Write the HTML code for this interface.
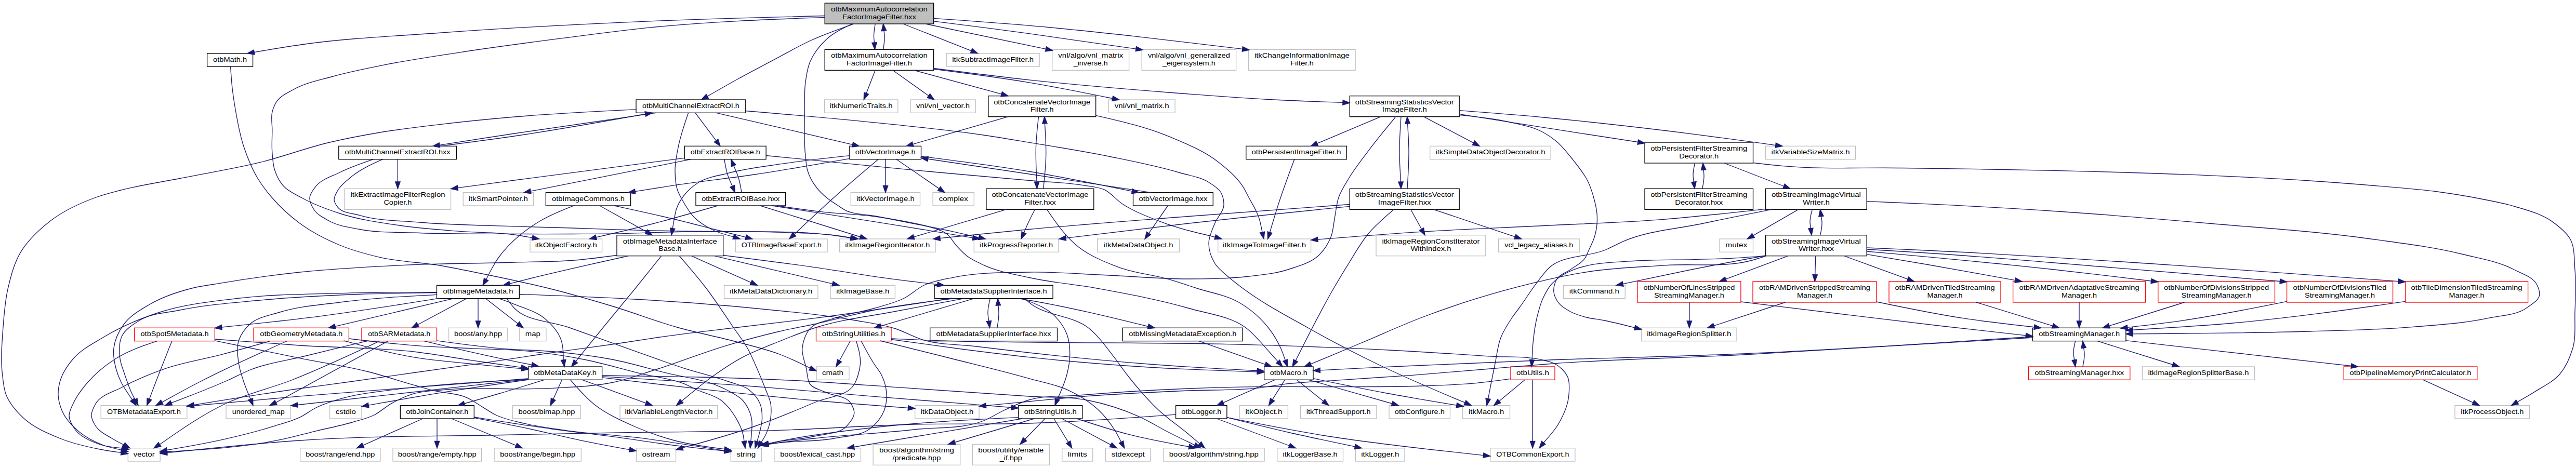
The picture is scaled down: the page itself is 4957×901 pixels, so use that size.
<!DOCTYPE html>
<html><head><meta charset="utf-8"><title>Include dependency graph</title>
<style>html,body{margin:0;padding:0;background:#fff}svg{display:block}text{font-family:"Liberation Sans",sans-serif;font-size:13px;fill:#000;text-anchor:middle}.e{fill:none;stroke:#191970;stroke-width:1.33}.a{fill:#191970;stroke:#191970;stroke-width:1.33}.k{fill:#fff;stroke:#000;stroke-width:1.33}.g{fill:#fff;stroke:#bfbfbf;stroke-width:1.33}.r{fill:#fff;stroke:#f00;stroke-width:1.33}.m{fill:#bfbfbf;stroke:#000;stroke-width:1.33}</style></head>
<body>
<svg width="4957" height="901" viewBox="0 0 4957 901">
<rect width="4957" height="901" fill="#fff"/>
<g id="nodes">
<rect class="m" x="1587.2" y="6" width="209.4" height="40"/><text x="1691.9" y="21.9" textLength="186" lengthAdjust="spacingAndGlyphs">otbMaximumAutocorrelation</text><text x="1691.9" y="36.6" textLength="142" lengthAdjust="spacingAndGlyphs">FactorImageFilter.hxx</text>
<rect class="k" x="398.6" y="102.7" width="88" height="25.3"/><text x="442.6" y="118.6" textLength="65" lengthAdjust="spacingAndGlyphs">otbMath.h</text>
<rect class="k" x="1587.2" y="95.3" width="209.4" height="40"/><text x="1691.9" y="111.2" textLength="186" lengthAdjust="spacingAndGlyphs">otbMaximumAutocorrelation</text><text x="1691.9" y="125.9" textLength="126" lengthAdjust="spacingAndGlyphs">FactorImageFilter.h</text>
<rect class="g" x="1821.2" y="102.7" width="178.9" height="25.3"/><text x="1910.7" y="118.6" textLength="157" lengthAdjust="spacingAndGlyphs">itkSubtractImageFilter.h</text>
<rect class="g" x="2024.7" y="95.3" width="147.9" height="40"/><text x="2098.7" y="111.2" textLength="125" lengthAdjust="spacingAndGlyphs">vnl/algo/vnl_matrix</text><text x="2098.7" y="125.9" textLength="66" lengthAdjust="spacingAndGlyphs">_inverse.h</text>
<rect class="g" x="2197.2" y="95.3" width="181.4" height="40"/><text x="2287.9" y="111.2" textLength="158" lengthAdjust="spacingAndGlyphs">vnl/algo/vnl_generalized</text><text x="2287.9" y="125.9" textLength="102" lengthAdjust="spacingAndGlyphs">_eigensystem.h</text>
<rect class="g" x="2402.7" y="95.3" width="205.4" height="40"/><text x="2505.4" y="111.2" textLength="183" lengthAdjust="spacingAndGlyphs">itkChangeInformationImage</text><text x="2505.4" y="125.9" textLength="45" lengthAdjust="spacingAndGlyphs">Filter.h</text>
<rect class="k" x="1224" y="192" width="210.8" height="25.3"/><text x="1329.4" y="208" textLength="187" lengthAdjust="spacingAndGlyphs">otbMultiChannelExtractROI.h</text>
<rect class="g" x="1586.7" y="192" width="141.1" height="25.3"/><text x="1657.2" y="208" textLength="121" lengthAdjust="spacingAndGlyphs">itkNumericTraits.h</text>
<rect class="g" x="1751.9" y="192" width="125.3" height="25.3"/><text x="1814.6" y="208" textLength="103" lengthAdjust="spacingAndGlyphs">vnl/vnl_vector.h</text>
<rect class="k" x="1901.8" y="184.7" width="206.9" height="40"/><text x="2005.2" y="200.6" textLength="186" lengthAdjust="spacingAndGlyphs">otbConcatenateVectorImage</text><text x="2005.2" y="215.3" textLength="45" lengthAdjust="spacingAndGlyphs">Filter.h</text>
<rect class="g" x="2133.3" y="192" width="127.8" height="25.3"/><text x="2197.2" y="208" textLength="105" lengthAdjust="spacingAndGlyphs">vnl/vnl_matrix.h</text>
<rect class="k" x="2597.3" y="184.7" width="210.9" height="40"/><text x="2702.8" y="200.6" textLength="190" lengthAdjust="spacingAndGlyphs">otbStreamingStatisticsVector</text><text x="2702.8" y="215.3" textLength="86" lengthAdjust="spacingAndGlyphs">ImageFilter.h</text>
<rect class="k" x="651.8" y="281.3" width="226.6" height="25.3"/><text x="765.1" y="297.3" textLength="203" lengthAdjust="spacingAndGlyphs">otbMultiChannelExtractROI.hxx</text>
<rect class="k" x="1317.3" y="281.3" width="156.8" height="25.3"/><text x="1395.7" y="297.3" textLength="134" lengthAdjust="spacingAndGlyphs">otbExtractROIBase.h</text>
<rect class="k" x="1634.9" y="281.3" width="137.6" height="25.3"/><text x="1703.7" y="297.3" textLength="116" lengthAdjust="spacingAndGlyphs">otbVectorImage.h</text>
<rect class="k" x="2397.8" y="281.3" width="193.6" height="25.3"/><text x="2494.6" y="297.3" textLength="172" lengthAdjust="spacingAndGlyphs">otbPersistentImageFilter.h</text>
<rect class="g" x="2751.7" y="281.3" width="232.5" height="25.3"/><text x="2867.9" y="297.3" textLength="211" lengthAdjust="spacingAndGlyphs">itkSimpleDataObjectDecorator.h</text>
<rect class="k" x="3165" y="274" width="208.5" height="40"/><text x="3269.2" y="289.9" textLength="186" lengthAdjust="spacingAndGlyphs">otbPersistentFilterStreaming</text><text x="3269.2" y="304.6" textLength="76" lengthAdjust="spacingAndGlyphs">Decorator.h</text>
<rect class="g" x="3397.6" y="281.3" width="173" height="25.3"/><text x="3484.1" y="297.3" textLength="151" lengthAdjust="spacingAndGlyphs">itkVariableSizeMatrix.h</text>
<rect class="g" x="663.1" y="363.3" width="204.5" height="40"/><text x="765.4" y="379.2" textLength="182" lengthAdjust="spacingAndGlyphs">itkExtractImageFilterRegion</text><text x="765.4" y="393.9" textLength="54" lengthAdjust="spacingAndGlyphs">Copier.h</text>
<rect class="g" x="891.2" y="370.7" width="135.1" height="25.3"/><text x="958.8" y="386.6" textLength="114" lengthAdjust="spacingAndGlyphs">itkSmartPointer.h</text>
<rect class="k" x="1050.4" y="370.7" width="163.2" height="25.3"/><text x="1132" y="386.6" textLength="140" lengthAdjust="spacingAndGlyphs">otbImageCommons.h</text>
<rect class="k" x="1339" y="370.7" width="172.5" height="25.3"/><text x="1425.2" y="386.6" textLength="150" lengthAdjust="spacingAndGlyphs">otbExtractROIBase.hxx</text>
<rect class="g" x="1637.3" y="370.7" width="133.2" height="25.3"/><text x="1703.9" y="386.6" textLength="112" lengthAdjust="spacingAndGlyphs">itkVectorImage.h</text>
<rect class="g" x="1795.1" y="370.7" width="79.2" height="25.3"/><text x="1834.7" y="386.6" textLength="56" lengthAdjust="spacingAndGlyphs">complex</text>
<rect class="k" x="1897.9" y="363.3" width="206.9" height="40"/><text x="2001.4" y="379.2" textLength="186" lengthAdjust="spacingAndGlyphs">otbConcatenateVectorImage</text><text x="2001.4" y="393.9" textLength="61" lengthAdjust="spacingAndGlyphs">Filter.hxx</text>
<rect class="k" x="2180.5" y="370.7" width="153.8" height="25.3"/><text x="2257.4" y="386.6" textLength="132" lengthAdjust="spacingAndGlyphs">otbVectorImage.hxx</text>
<rect class="k" x="2597.3" y="363.3" width="210.9" height="40"/><text x="2702.8" y="379.2" textLength="190" lengthAdjust="spacingAndGlyphs">otbStreamingStatisticsVector</text><text x="2702.8" y="393.9" textLength="102" lengthAdjust="spacingAndGlyphs">ImageFilter.hxx</text>
<rect class="k" x="3165" y="363.3" width="208.5" height="40"/><text x="3269.2" y="379.2" textLength="186" lengthAdjust="spacingAndGlyphs">otbPersistentFilterStreaming</text><text x="3269.2" y="393.9" textLength="92" lengthAdjust="spacingAndGlyphs">Decorator.hxx</text>
<rect class="k" x="3397.6" y="363.3" width="194.6" height="40"/><text x="3494.9" y="379.2" textLength="172" lengthAdjust="spacingAndGlyphs">otbStreamingImageVirtual</text><text x="3494.9" y="393.9" textLength="52" lengthAdjust="spacingAndGlyphs">Writer.h</text>
<rect class="g" x="1020" y="460" width="138.6" height="25.3"/><text x="1089.3" y="476" textLength="119" lengthAdjust="spacingAndGlyphs">itkObjectFactory.h</text>
<rect class="k" x="1187" y="452.7" width="204.6" height="40"/><text x="1289.3" y="468.6" textLength="181" lengthAdjust="spacingAndGlyphs">otbImageMetadataInterface</text><text x="1289.3" y="483.3" textLength="44" lengthAdjust="spacingAndGlyphs">Base.h</text>
<rect class="g" x="1415.6" y="460" width="176.5" height="25.3"/><text x="1503.8" y="476" textLength="154" lengthAdjust="spacingAndGlyphs">OTBImageBaseExport.h</text>
<rect class="g" x="1615.7" y="460" width="184.3" height="25.3"/><text x="1707.8" y="476" textLength="163" lengthAdjust="spacingAndGlyphs">itkImageRegionIterator.h</text>
<rect class="g" x="1874.3" y="460" width="162.7" height="25.3"/><text x="1955.7" y="476" textLength="141" lengthAdjust="spacingAndGlyphs">itkProgressReporter.h</text>
<rect class="g" x="2111.7" y="460" width="157.8" height="25.3"/><text x="2190.6" y="476" textLength="134" lengthAdjust="spacingAndGlyphs">itkMetaDataObject.h</text>
<rect class="g" x="2343.7" y="460" width="178.9" height="25.3"/><text x="2433.1" y="476" textLength="160" lengthAdjust="spacingAndGlyphs">itkImageToImageFilter.h</text>
<rect class="g" x="2648" y="452.7" width="210.8" height="40"/><text x="2753.4" y="468.6" textLength="188" lengthAdjust="spacingAndGlyphs">itkImageRegionConstIterator</text><text x="2753.4" y="483.3" textLength="78" lengthAdjust="spacingAndGlyphs">WithIndex.h</text>
<rect class="g" x="2883.4" y="460" width="155.8" height="25.3"/><text x="2961.3" y="476" textLength="132" lengthAdjust="spacingAndGlyphs">vcl_legacy_aliases.h</text>
<rect class="g" x="3309.1" y="460" width="64.4" height="25.3"/><text x="3341.3" y="476" textLength="42" lengthAdjust="spacingAndGlyphs">mutex</text>
<rect class="k" x="3397.6" y="452.7" width="194.6" height="40"/><text x="3494.9" y="468.6" textLength="172" lengthAdjust="spacingAndGlyphs">otbStreamingImageVirtual</text><text x="3494.9" y="483.3" textLength="68" lengthAdjust="spacingAndGlyphs">Writer.hxx</text>
<rect class="k" x="840.5" y="549.3" width="158.8" height="25.3"/><text x="919.9" y="565.3" textLength="135" lengthAdjust="spacingAndGlyphs">otbImageMetadata.h</text>
<rect class="g" x="1393.5" y="549.3" width="180.4" height="25.3"/><text x="1483.7" y="565.3" textLength="159" lengthAdjust="spacingAndGlyphs">itkMetaDataDictionary.h</text>
<rect class="g" x="1598" y="549.3" width="124.4" height="25.3"/><text x="1660.2" y="565.3" textLength="102" lengthAdjust="spacingAndGlyphs">itkImageBase.h</text>
<rect class="k" x="1798.1" y="549.3" width="228" height="25.3"/><text x="1912.1" y="565.3" textLength="205" lengthAdjust="spacingAndGlyphs">otbMetadataSupplierInterface.h</text>
<rect class="g" x="3008.3" y="549.3" width="118.9" height="25.3"/><text x="3067.8" y="565.3" textLength="96" lengthAdjust="spacingAndGlyphs">itkCommand.h</text>
<rect class="r" x="3150.8" y="542" width="199.1" height="40"/><text x="3250.4" y="557.9" textLength="176" lengthAdjust="spacingAndGlyphs">otbNumberOfLinesStripped</text><text x="3250.4" y="572.6" textLength="135" lengthAdjust="spacingAndGlyphs">StreamingManager.h</text>
<rect class="r" x="3373" y="542" width="237.9" height="40"/><text x="3491.9" y="557.9" textLength="214" lengthAdjust="spacingAndGlyphs">otbRAMDrivenStrippedStreaming</text><text x="3491.9" y="572.6" textLength="68" lengthAdjust="spacingAndGlyphs">Manager.h</text>
<rect class="r" x="3635" y="542" width="215" height="40"/><text x="3742.5" y="557.9" textLength="192" lengthAdjust="spacingAndGlyphs">otbRAMDrivenTiledStreaming</text><text x="3742.5" y="572.6" textLength="68" lengthAdjust="spacingAndGlyphs">Manager.h</text>
<rect class="r" x="3873.6" y="542" width="255.1" height="40"/><text x="4001.1" y="557.9" textLength="231" lengthAdjust="spacingAndGlyphs">otbRAMDrivenAdaptativeStreaming</text><text x="4001.1" y="572.6" textLength="68" lengthAdjust="spacingAndGlyphs">Manager.h</text>
<rect class="r" x="4152.8" y="542" width="224.7" height="40"/><text x="4265.1" y="557.9" textLength="202" lengthAdjust="spacingAndGlyphs">otbNumberOfDivisionsStripped</text><text x="4265.1" y="572.6" textLength="135" lengthAdjust="spacingAndGlyphs">StreamingManager.h</text>
<rect class="r" x="4400.6" y="542" width="204" height="40"/><text x="4502.6" y="557.9" textLength="180" lengthAdjust="spacingAndGlyphs">otbNumberOfDivisionsTiled</text><text x="4502.6" y="572.6" textLength="135" lengthAdjust="spacingAndGlyphs">StreamingManager.h</text>
<rect class="r" x="4628.6" y="542" width="236" height="40"/><text x="4746.6" y="557.9" textLength="214" lengthAdjust="spacingAndGlyphs">otbTileDimensionTiledStreaming</text><text x="4746.6" y="572.6" textLength="68" lengthAdjust="spacingAndGlyphs">Manager.h</text>
<rect class="r" x="258.6" y="631.3" width="154.8" height="25.3"/><text x="336" y="647.3" textLength="131" lengthAdjust="spacingAndGlyphs">otbSpot5Metadata.h</text>
<rect class="r" x="488.1" y="631.3" width="183.3" height="25.3"/><text x="579.8" y="647.3" textLength="159" lengthAdjust="spacingAndGlyphs">otbGeometryMetadata.h</text>
<rect class="r" x="696" y="631.3" width="144.5" height="25.3"/><text x="768.2" y="647.3" textLength="120" lengthAdjust="spacingAndGlyphs">otbSARMetadata.h</text>
<rect class="g" x="863.6" y="631.3" width="112.6" height="25.3"/><text x="919.9" y="647.3" textLength="92" lengthAdjust="spacingAndGlyphs">boost/any.hpp</text>
<rect class="g" x="999.8" y="631.3" width="51.1" height="25.3"/><text x="1025.3" y="647.3" textLength="29" lengthAdjust="spacingAndGlyphs">map</text>
<rect class="r" x="1570.5" y="631.3" width="144.5" height="25.3"/><text x="1642.8" y="647.3" textLength="122" lengthAdjust="spacingAndGlyphs">otbStringUtilities.h</text>
<rect class="k" x="1789.7" y="631.3" width="244.8" height="25.3"/><text x="1912.1" y="647.3" textLength="221" lengthAdjust="spacingAndGlyphs">otbMetadataSupplierInterface.hxx</text>
<rect class="k" x="2160.3" y="631.3" width="231" height="25.3"/><text x="2275.8" y="647.3" textLength="207" lengthAdjust="spacingAndGlyphs">otbMissingMetadataException.h</text>
<rect class="g" x="3158.7" y="631.3" width="183.3" height="25.3"/><text x="3250.3" y="647.3" textLength="162" lengthAdjust="spacingAndGlyphs">itkImageRegionSplitter.h</text>
<rect class="k" x="3911.5" y="631.3" width="179.4" height="25.3"/><text x="4001.2" y="647.3" textLength="156" lengthAdjust="spacingAndGlyphs">otbStreamingManager.h</text>
<rect class="k" x="1016.5" y="706" width="142.1" height="25.3"/><text x="1087.5" y="722" textLength="121" lengthAdjust="spacingAndGlyphs">otbMetaDataKey.h</text>
<rect class="g" x="1571" y="706" width="62.9" height="25.3"/><text x="1602.5" y="722" textLength="41" lengthAdjust="spacingAndGlyphs">cmath</text>
<rect class="k" x="2432.6" y="706" width="94.4" height="25.3"/><text x="2479.8" y="722" textLength="72" lengthAdjust="spacingAndGlyphs">otbMacro.h</text>
<rect class="r" x="2907" y="706" width="85" height="25.3"/><text x="2949.5" y="722" textLength="63" lengthAdjust="spacingAndGlyphs">otbUtils.h</text>
<rect class="r" x="3903.6" y="706" width="195.2" height="25.3"/><text x="4001.2" y="722" textLength="172" lengthAdjust="spacingAndGlyphs">otbStreamingManager.hxx</text>
<rect class="g" x="4122.4" y="706" width="216.2" height="25.3"/><text x="4230.5" y="722" textLength="194" lengthAdjust="spacingAndGlyphs">itkImageRegionSplitterBase.h</text>
<rect class="r" x="4510.2" y="706" width="256.6" height="25.3"/><text x="4638.5" y="722" textLength="234" lengthAdjust="spacingAndGlyphs">otbPipelineMemoryPrintCalculator.h</text>
<rect class="g" x="194.2" y="780.7" width="165.6" height="25.3"/><text x="277" y="796.6" textLength="142" lengthAdjust="spacingAndGlyphs">OTBMetadataExport.h</text>
<rect class="g" x="435" y="780.7" width="124.4" height="25.3"/><text x="497.2" y="796.6" textLength="101" lengthAdjust="spacingAndGlyphs">unordered_map</text>
<rect class="g" x="634.6" y="780.7" width="61.4" height="25.3"/><text x="665.3" y="796.6" textLength="39" lengthAdjust="spacingAndGlyphs">cstdio</text>
<rect class="k" x="770.3" y="780.7" width="142" height="25.3"/><text x="841.3" y="796.6" textLength="120" lengthAdjust="spacingAndGlyphs">otbJoinContainer.h</text>
<rect class="g" x="986.5" y="780.7" width="130.8" height="25.3"/><text x="1051.9" y="796.6" textLength="109" lengthAdjust="spacingAndGlyphs">boost/bimap.hpp</text>
<rect class="g" x="1193" y="780.7" width="187.8" height="25.3"/><text x="1286.9" y="796.6" textLength="169" lengthAdjust="spacingAndGlyphs">itkVariableLengthVector.h</text>
<rect class="g" x="1760.7" y="780.7" width="123.4" height="25.3"/><text x="1822.4" y="796.6" textLength="102" lengthAdjust="spacingAndGlyphs">itkDataObject.h</text>
<rect class="k" x="1959.8" y="780.7" width="122.9" height="25.3"/><text x="2021.2" y="796.6" textLength="101" lengthAdjust="spacingAndGlyphs">otbStringUtils.h</text>
<rect class="k" x="2262.6" y="780.7" width="98.3" height="25.3"/><text x="2311.8" y="796.6" textLength="77" lengthAdjust="spacingAndGlyphs">otbLogger.h</text>
<rect class="g" x="2385.5" y="780.7" width="92.9" height="25.3"/><text x="2431.9" y="796.6" textLength="71" lengthAdjust="spacingAndGlyphs">itkObject.h</text>
<rect class="g" x="2502.5" y="780.7" width="146.4" height="25.3"/><text x="2575.7" y="796.6" textLength="124" lengthAdjust="spacingAndGlyphs">itkThreadSupport.h</text>
<rect class="g" x="2673" y="780.7" width="117.5" height="25.3"/><text x="2731.8" y="796.6" textLength="96" lengthAdjust="spacingAndGlyphs">otbConfigure.h</text>
<rect class="g" x="2814.6" y="780.7" width="90.9" height="25.3"/><text x="2860.1" y="796.6" textLength="68" lengthAdjust="spacingAndGlyphs">itkMacro.h</text>
<rect class="g" x="4724" y="780.7" width="143.5" height="25.3"/><text x="4795.8" y="796.6" textLength="121" lengthAdjust="spacingAndGlyphs">itkProcessObject.h</text>
<rect class="g" x="246.3" y="862.7" width="61.9" height="25.3"/><text x="277.2" y="878.6" textLength="41" lengthAdjust="spacingAndGlyphs">vector</text>
<rect class="g" x="577.6" y="862.7" width="154.3" height="25.3"/><text x="654.8" y="878.6" textLength="133" lengthAdjust="spacingAndGlyphs">boost/range/end.hpp</text>
<rect class="g" x="756" y="862.7" width="170.6" height="25.3"/><text x="841.3" y="878.6" textLength="151" lengthAdjust="spacingAndGlyphs">boost/range/empty.hpp</text>
<rect class="g" x="951.1" y="862.7" width="167.2" height="25.3"/><text x="1034.7" y="878.6" textLength="145" lengthAdjust="spacingAndGlyphs">boost/range/begin.hpp</text>
<rect class="g" x="1224.4" y="862.7" width="76.2" height="25.3"/><text x="1262.5" y="878.6" textLength="54" lengthAdjust="spacingAndGlyphs">ostream</text>
<rect class="g" x="1406.3" y="862.7" width="59" height="25.3"/><text x="1435.8" y="878.6" textLength="37" lengthAdjust="spacingAndGlyphs">string</text>
<rect class="g" x="1489.9" y="862.7" width="166.6" height="25.3"/><text x="1573.2" y="878.6" textLength="144" lengthAdjust="spacingAndGlyphs">boost/lexical_cast.hpp</text>
<rect class="g" x="1680.1" y="855.3" width="167.6" height="40"/><text x="1763.9" y="871.2" textLength="144" lengthAdjust="spacingAndGlyphs">boost/algorithm/string</text><text x="1763.9" y="885.9" textLength="93" lengthAdjust="spacingAndGlyphs">/predicate.hpp</text>
<rect class="g" x="1871.3" y="855.3" width="148" height="40"/><text x="1945.3" y="871.2" textLength="126" lengthAdjust="spacingAndGlyphs">boost/utility/enable</text><text x="1945.3" y="885.9" textLength="43" lengthAdjust="spacingAndGlyphs">_if.hpp</text>
<rect class="g" x="2043.8" y="862.7" width="59" height="25.3"/><text x="2073.3" y="878.6" textLength="37" lengthAdjust="spacingAndGlyphs">limits</text>
<rect class="g" x="2127.4" y="862.7" width="86.5" height="25.3"/><text x="2170.7" y="878.6" textLength="64" lengthAdjust="spacingAndGlyphs">stdexcept</text>
<rect class="g" x="2238.5" y="862.7" width="194.6" height="25.3"/><text x="2335.8" y="878.6" textLength="172" lengthAdjust="spacingAndGlyphs">boost/algorithm/string.hpp</text>
<rect class="g" x="2457.7" y="862.7" width="126.8" height="25.3"/><text x="2521.1" y="878.6" textLength="105" lengthAdjust="spacingAndGlyphs">itkLoggerBase.h</text>
<rect class="g" x="2608.6" y="862.7" width="94.4" height="25.3"/><text x="2655.8" y="878.6" textLength="73" lengthAdjust="spacingAndGlyphs">itkLogger.h</text>
<rect class="g" x="2867.7" y="862.7" width="163.2" height="25.3"/><text x="2949.3" y="878.6" textLength="140" lengthAdjust="spacingAndGlyphs">OTBCommonExport.h</text>
</g>
<g id="edges">
<path class="e" d="M1587.2,30.5C1474.8,33.3 1362.3,36.1 1250,40.8C1111.9,46.6 973.8,53.9 836,64C753.9,70 671.5,73.3 590,84.5C556.3,89.1 522.7,94.8 489.1,100.6"/><path class="a" d="M476,102.7L488.4,96L489.9,105.2Z"/>
<path class="e" d="M1587.2,33.4C1474.6,37.6 1362,41.8 1250,53.1C1193.7,58.8 1137.5,66.4 1081.4,73.7C1015.8,82.2 950.2,90.7 884.8,100.8C835.5,108.4 786.1,115.5 737.3,125.3C704.4,131.9 671.3,138.3 639,147.5C614.1,154.6 587.7,159.4 565.3,172C554.1,178.3 540.6,184 533.3,194.2C529,200.2 525.9,207.8 524,215C521.1,226.1 523.8,238.3 523.8,250C523.8,264.5 522.6,279.1 523.8,293.5C524.7,305.1 525.1,317.2 528.8,328C532.5,339 538.3,350.4 546,358.8C555,368.7 569,374.3 581,381C603.9,393.7 629.1,402.9 654,411C691,423 730.4,428.3 769,434C807.4,439.7 846.3,442.3 885,445.4C920,448.2 955.3,447.1 990,452C1001.5,453.6 1012.9,455.7 1024.4,457.8"/><path class="a" d="M1037.5,460L1023.6,462.4L1025.2,453.2Z"/>
<path class="e" d="M1642.7,46C1614.8,55.9 1586.8,65.7 1560,78C1536.1,88.9 1513.3,102.3 1490,114.6C1466.6,127 1443.2,139.2 1420,152C1400.3,162.9 1380.7,174.2 1361.2,185.4"/><path class="a" d="M1349.6,192L1358.9,181.4L1363.5,189.5Z"/>
<path class="e" d="M1640,46C1622,54.5 1603.9,63 1590,76C1577.4,87.7 1565.8,102.7 1559,118.5C1553.4,131.6 1551.4,146.7 1549.6,161C1547.6,177.1 1548.6,193.7 1548.5,210C1548.2,240.3 1546.5,270.9 1550,301C1551.1,310.2 1551.4,319.8 1554,328.5C1557.6,340.5 1564.2,352.2 1572,362C1577.2,368.6 1583.5,374.6 1590,380C1596.6,385.6 1604.2,390.2 1611.4,395C1616.2,398.2 1621,401.7 1626,404.4C1643.4,413.7 1665.2,412.1 1684.8,416C1705.8,420.2 1726.7,424.3 1747.7,428.5C1775.7,434.1 1803.7,439.3 1831.6,445.3C1849,449.1 1866.3,453.1 1883.6,457.1"/><path class="a" d="M1896.6,460L1882.6,461.6L1884.7,452.5Z"/>
<path class="e" d="M1684.2,46C1682.8,54 1681.4,62 1681.5,70C1681.6,74 1682,78 1682.5,82.1"/><path class="a" d="M1683.5,95.3L1677.8,82.4L1687.1,81.7Z"/>
<path class="e" d="M1699.6,95.3C1701,86.9 1702.4,78.4 1702,70C1701.8,66.4 1701.4,62.8 1700.9,59.2"/><path class="a" d="M1699.6,46L1705.6,58.8L1696.3,59.7Z"/>
<path class="e" d="M1738,46L1869.1,97.8"/><path class="a" d="M1881.5,102.7L1867.4,102.1L1870.8,93.4Z"/>
<path class="e" d="M1781,46L2012.5,94.3"/><path class="a" d="M2025.5,97L2011.5,98.9L2013.4,89.7Z"/>
<path class="e" d="M1796.6,40.8C1857.8,48.5 1918.9,56.3 1980,64.6C2048.7,74 2117.3,84 2185.8,94.1"/><path class="a" d="M2199,96L2185.2,98.7L2186.5,89.5Z"/>
<path class="e" d="M1796.6,35.4C1857.8,39.6 1918.9,43.9 1980,49.2C2044.1,54.8 2108.1,61.5 2172,68.5C2245,76.5 2317.9,85.4 2390.8,94.4"/><path class="a" d="M2404,96L2390.2,99.1L2391.3,89.8Z"/>
<path class="e" d="M1684.2,135.3L1667.1,179.6"/><path class="a" d="M1662.3,192L1662.7,177.9L1671.5,181.3Z"/>
<path class="e" d="M1718,135.3L1786.9,184.3"/><path class="a" d="M1797.7,192L1784.2,188.1L1789.6,180.5Z"/>
<path class="e" d="M1759.2,135.3L1927.2,181.2"/><path class="a" d="M1940,184.7L1925.9,185.7L1928.4,176.7Z"/>
<path class="e" d="M1796.6,133C1857.9,140.8 1919.1,148.6 1980,158.8C2033.8,167.8 2087.3,178.7 2140.7,189.5"/><path class="a" d="M2153.8,192L2139.9,194.1L2141.6,184.9Z"/>
<path class="e" d="M1796.6,131.5C1857.7,139.3 1918.8,147.1 1980,153.8C2069.5,163.5 2159.3,171 2249,178C2313.1,183 2377.3,188 2441.5,191.5C2489,194.1 2536.5,195.7 2584,197.4"/><path class="a" d="M2597.3,198L2583.8,202.1L2584.2,192.8Z"/>
<path class="e" d="M443.6,128C444.5,142 445.4,156.1 447,170C448.3,181.7 450.1,193.4 452,205C456.3,230.9 460.7,257.2 469,282C476.1,303.1 484.4,324.5 496,343.5C503.8,356.3 513.2,368.6 523,380C538.9,398.6 557.4,415.6 577,430C600.4,447.2 627.1,460.9 654,472C678.7,482.2 705,489.3 731,495.4C768.6,504.2 807.9,504.5 846,511C871.8,515.4 897.4,520.8 923,526C945.4,530.5 967.7,535.1 990,540C1011.8,544.8 1033.7,549.6 1055.4,555C1097.3,565.3 1138.7,577.5 1180,590C1221.2,602.5 1261.3,618.3 1302.7,630C1339.1,640.3 1376.4,647.2 1413,657C1442.1,664.8 1471.9,671.3 1500,682C1520.1,689.6 1539.5,699.1 1558.9,708.5"/><path class="a" d="M1571,714L1557,712.8L1560.8,704.3Z"/>
<path class="e" d="M1224,210.8C1145.9,214.6 1067.8,218.3 990,225C941.9,229.1 893.9,233.9 846,239.6C807.6,244.2 769.1,248.6 731,255C698.7,260.4 666.5,266.5 634.6,274C589.2,284.6 545.3,301.6 500,312.7C449.2,325.2 397.3,333.2 346,343.5C307.7,351.2 268.8,356.5 231,366.5C215.4,370.6 199.7,374.5 184.6,380C153.4,391.3 121.8,405.8 96,426C74.2,443.1 52.2,463.9 38.5,487.7C26.9,507.8 20.8,532 15.4,555C9.5,580 7.7,606.2 5.8,632C3.7,661.5 1.1,691.7 4.6,721C6.1,733.9 7,747.6 11.5,759.5C18.2,777 32.3,792.8 46,805.6C64.9,823.2 91.1,834.1 115.4,844C139.8,853.9 166.3,859.9 192.3,865C205.8,867.7 219.5,869.5 233.2,871.4"/><path class="a" d="M246.3,873.5L232.4,876L233.9,866.8Z"/>
<path class="e" d="M1262,217.3C1171.3,230.3 1080.6,243.3 990,257C941.9,264.3 893.9,271.8 845.8,279.3"/><path class="a" d="M832.7,281.3L845.1,274.7L846.6,283.9Z"/>
<path class="e" d="M846,281.3C894,275.2 942.1,269 990,262C1074.2,249.6 1158.1,234.6 1241.9,219.5"/><path class="a" d="M1255,217.3L1242.7,224.1L1241.1,214.9Z"/>
<path class="e" d="M1324.6,217.3C1317.2,238.7 1309.8,260 1305.4,282C1302.3,297.3 1298.9,313 1299,328.5C1299.1,341.3 1299.6,355 1304,367C1306.3,373.2 1309.7,379.2 1313,385C1319.6,396.8 1326.6,409.1 1336,418.5C1346.7,429.2 1360.8,437.5 1374.6,444C1386.2,449.4 1398.8,452.6 1411.3,455.9"/><path class="a" d="M1424,460L1409.9,460.3L1412.8,451.5Z"/>
<path class="e" d="M1338,217.3L1378,270.7"/><path class="a" d="M1386,281.3L1374.3,273.5L1381.8,267.9Z"/>
<path class="e" d="M1378.5,217.3L1640.5,278.3"/><path class="a" d="M1653.5,281.3L1639.5,282.9L1641.6,273.8Z"/>
<path class="e" d="M1434.8,213.5C1517.3,220.4 1599.7,227.3 1682,235.8C1751.1,242.9 1820.3,249.4 1889,259.5C1919.4,264 1949.7,269.2 1980,274.2C2031.3,282.7 2082.8,290.6 2133.8,301C2178.9,310.2 2224.4,318.8 2268.5,332C2287.8,337.8 2309.2,340.3 2326,351C2334.3,356.3 2344.2,361.9 2349,370C2353.1,377 2355.3,386.9 2355,395C2354.5,407.3 2342.5,417.9 2337.7,430C2332.8,442.4 2326,455.7 2326,468.5C2326,481.3 2330.9,495.9 2337.7,507C2344.1,517.5 2355.1,525.4 2364.6,533.8C2373.1,541.3 2382.4,548.1 2391.5,555C2431,584.7 2475.4,607.7 2518.5,632C2561.1,656 2604.6,678.6 2648.6,700C2704.4,727.2 2761.7,751.2 2819,775.3"/><path class="a" d="M2831.2,780.7L2817.1,779.6L2820.9,771Z"/>
<path class="e" d="M765.4,306.7L765.4,350"/><path class="a" d="M765.4,363.3L760.7,350L770.1,350Z"/>
<path class="e" d="M718.5,306.7C696.5,314.2 674.5,321.7 653.8,332C637.9,339.9 618.4,345.3 607.7,358.8C602.8,364.9 596.7,372.6 596,380C595.3,387.4 599.7,396.4 603.8,403C610.3,413.4 623.5,420 634.6,426C651.8,435.3 672.8,437.7 692.3,441.5C729.9,448.9 769.2,446.9 807.7,448.5C868.4,451 929.2,450.1 990,450.4C1026.7,450.6 1063.3,450.6 1100,450.5C1128,450.4 1156,450.5 1184,450C1218.9,449.4 1253.8,447.5 1288.7,446.8C1323.6,446.1 1358.6,445.7 1393.5,445.8C1435.3,445.9 1477.2,446.1 1519,447.8C1546,448.9 1573.2,449.3 1600,452.5C1612.3,454 1624.6,456 1636.8,458"/><path class="a" d="M1650,460L1636.2,462.6L1637.5,453.4Z"/>
<path class="e" d="M736.5,306.7C715.5,316 694.4,325.4 677,339.6C667.2,347.6 656,355.6 650,366.5C646.9,372.1 642.4,379 643,385C643.5,389.8 647,395.1 650,399C658.6,410.3 678,410.4 692.3,414.6C729.2,425.5 769.1,424.6 807.7,428C868.3,433.3 929.2,433.7 990,435.8C1026.7,437.1 1063.3,437.9 1100,439C1141.9,440.3 1183.9,442.1 1225.8,443.2C1253.7,443.9 1281.7,444.6 1309.6,445C1344.6,445.5 1379.5,445.2 1414.5,445.6C1463.3,446.2 1512.3,445 1561,448.8C1577.4,450.1 1593.7,451.3 1610,453.5C1619.6,454.8 1629.3,456.4 1638.9,458"/><path class="a" d="M1652,460L1638.1,462.6L1639.6,453.4Z"/>
<path class="e" d="M1940,224.7L1756.6,277.6"/><path class="a" d="M1743.8,281.3L1755.3,273.2L1757.9,282.1Z"/>
<path class="e" d="M1998.5,224.7C1996.3,243.8 1994.2,262.9 1993.5,282C1992.7,304.6 1993.9,327.3 1995.1,350"/><path class="a" d="M1995.4,363.3L1990.4,350.1L1999.8,349.9Z"/>
<path class="e" d="M2007.7,363.3C2010,342.6 2012.2,321.8 2012.7,301C2013.2,280 2011.8,259 2010.5,238"/><path class="a" d="M2010,224.7L2015.1,237.8L2005.8,238.1Z"/>
<path class="e" d="M2108.7,222.3C2156.6,233.2 2204.4,244.1 2249.2,262.7C2282.4,276.5 2317.4,290.5 2345.4,312.7C2362.2,326.1 2379.8,340.7 2391.5,358.8C2395.8,365.5 2399.2,372.9 2403,380C2409.7,392.7 2417.8,405 2422.3,418.5C2425.4,427.7 2427.2,437.4 2429,447"/><path class="a" d="M2432,460L2424.4,448.1L2433.5,446Z"/>
<path class="e" d="M2657,224.7L2534.6,276.2"/><path class="a" d="M2522.3,281.3L2532.7,271.9L2536.4,280.5Z"/>
<path class="e" d="M2685.8,224.7C2668.1,246.1 2650.4,267.4 2633.8,289.6C2620.6,307.2 2606.7,324.6 2595.4,343.5C2588.3,355.3 2580.5,367.1 2576,380C2571.7,392.2 2571,405.7 2568.5,418.5C2566,431.3 2565.7,445.1 2560.8,457C2555.7,469.6 2547.3,482.2 2537.7,491.5C2523,505.7 2500,511.9 2480,518.5C2455.5,526.6 2428.8,528.9 2403,532C2364.9,536.6 2326.1,536.8 2287.7,537C2236.4,537.3 2185.1,532.2 2133.8,530C2082.5,527.8 2031.2,523.2 1980,524C1932,524.8 1882.9,524.1 1836,533.8C1816.7,537.8 1796.2,540.7 1778.5,549C1764.8,555.4 1753.5,567.1 1740,574C1722,583.1 1701.7,587.7 1682.3,593.5C1657,601.1 1630.3,604 1605.4,612.7C1589.7,618.2 1569.6,620.6 1559.2,632C1550.6,641.4 1544.9,657.2 1543.8,670.4C1542.7,682.9 1548.6,696.2 1551.5,709C1553.8,719.4 1553.1,732.3 1559,740C1565.4,748.3 1579.5,750.7 1590,755.6C1605.1,762.7 1627.1,762.2 1636,775C1639.7,780.3 1643.6,787.8 1643.8,794C1644.1,803.3 1635.2,813.9 1628.5,821C1614.7,835.7 1587.8,835.1 1567,840C1541.8,846 1515.4,846.3 1490,851.8C1485.3,852.8 1480.6,853.9 1476,855"/><path class="a" d="M1463,858L1474.9,850.5L1477,859.6Z"/>
<path class="e" d="M2696,224.7C2694.5,246.4 2693,268.2 2693,290C2693,310 2694.2,330 2695.5,350"/><path class="a" d="M2696,363.3L2690.8,350.2L2700.1,349.9Z"/>
<path class="e" d="M2708,363.3C2709.6,338.9 2711.2,314.4 2711,290C2710.8,272.7 2709.7,255.3 2708.6,238"/><path class="a" d="M2708,224.7L2713.3,237.7L2703.9,238.2Z"/>
<path class="e" d="M2739.6,224.7L2835.5,275.1"/><path class="a" d="M2847.3,281.3L2833.4,279.3L2837.7,271Z"/>
<path class="e" d="M2808.2,212.7C2862.2,216.8 2916.1,221 2970,226C3047,233.2 3124,241.7 3200.8,251C3272.9,259.7 3344.9,269.6 3416.8,279.6"/><path class="a" d="M3430,281.3L3416.2,284.2L3417.4,275Z"/>
<path class="e" d="M2808.2,219.6C2862.1,228.3 2916,236.9 2970,245.4C3030.6,254.9 3091.2,264.2 3151.9,273.5"/><path class="a" d="M3165,275.5L3151.1,278.1L3152.6,268.9Z"/>
<path class="e" d="M2808.2,221.5C2839.1,224.4 2870,227.2 2900,234C2923.7,239.4 2948.9,243.2 2970,255C2978,259.5 2985.8,264.7 2993,270.4C3006.4,281.1 3017,295.3 3027.7,308.8C3037.4,321.1 3047.6,333.4 3054.6,347.3C3060.5,359.1 3064.7,372.1 3068,385C3070.2,393.5 3072.3,402.2 3073,410.8C3074.3,426.1 3072.6,442.4 3068,457C3065.5,464.9 3061.5,472.4 3058,480C3055.4,485.7 3053.4,492 3050,497C3043.5,506.6 3031.6,512 3022,519C3013.8,524.9 3002.1,528.1 2996.8,536C2992.2,542.7 2989.2,552.9 2989.8,561C2990.4,568.7 2994.8,577.3 2999.6,583.6C3005.1,590.7 3014,595.6 3022,600C3031.5,605.2 3042.3,608.2 3052.8,611C3063.3,613.7 3074.3,614.4 3085,616.5C3105.4,620.5 3125.6,625.7 3145.8,630.9"/><path class="a" d="M3158.7,634L3144.7,635.5L3146.8,626.4Z"/>
<path class="e" d="M2490.8,306.7C2481.1,332.7 2471.4,358.7 2462.7,385C2455.9,405.6 2449.7,426.5 2443.5,447.3"/><path class="a" d="M2439.6,460L2439.1,445.9L2448,448.7Z"/>
<path class="e" d="M1634.9,305.4C1573.8,316.1 1512.8,326.9 1451.5,336C1400.3,343.6 1348.9,349 1297.7,356.7C1272.5,360.5 1247.3,364.5 1222.1,368.6"/><path class="a" d="M1209,370.7L1221.4,364L1222.9,373.2Z"/>
<path class="e" d="M1634.9,299.7C1590.8,304.3 1546.6,309 1502.8,315.6C1468.5,320.8 1433.8,324.7 1400.3,333.6C1381.2,338.6 1360.1,341.1 1343.8,351.5C1333.4,358.2 1323.1,367 1315.6,377C1309.8,384.7 1304.6,393.6 1301.5,402.8C1299.7,408.3 1298.8,414.2 1297.7,420C1296.4,426.5 1295.3,433 1294.3,439.6"/><path class="a" d="M1292,452.7L1289.7,438.8L1298.9,440.4Z"/>
<path class="e" d="M1690,306.7C1661.4,330.9 1632.9,355 1605,380C1579.1,403.2 1553.8,427.1 1528.5,451"/><path class="a" d="M1518.8,460L1525.4,447.5L1531.7,454.4Z"/>
<path class="e" d="M1704,306.7L1704,357.4"/><path class="a" d="M1704,370.7L1699.3,357.4L1708.7,357.4Z"/>
<path class="e" d="M1725,306.7L1807,363.1"/><path class="a" d="M1818,370.7L1804.4,367L1809.7,359.3Z"/>
<path class="e" d="M1772.5,301C1841.8,309.8 1911.1,318.5 1980,330C2046.4,341.1 2112.4,354.6 2178.4,368.2"/><path class="a" d="M2191.5,370.7L2177.6,372.7L2179.3,363.6Z"/>
<path class="e" d="M2214.6,370.7C2136.4,358.7 2058.2,346.8 1980,335C1915.2,325.2 1850.4,315.6 1785.7,306"/><path class="a" d="M1772.5,304L1786.3,301.3L1785,310.6Z"/>
<path class="e" d="M1318.2,304.1C1208.8,318.2 1099.4,332.4 990,347C953.6,351.9 917.2,356.8 880.8,361.7"/><path class="a" d="M867.6,363.5L880.2,357.1L881.4,366.4Z"/>
<path class="e" d="M1329.7,306.7L1021,368.1"/><path class="a" d="M1008,370.7L1020.1,363.5L1022,372.7Z"/>
<path class="e" d="M1393.8,306.7C1395.4,316.6 1397,326.5 1400,336C1402.5,343.7 1405.9,351 1409.3,358.4"/><path class="a" d="M1414.4,370.7L1405,360.2L1413.6,356.6Z"/>
<path class="e" d="M1427,370.7C1425.4,360.7 1423.8,350.8 1420.8,341.3C1418.4,333.7 1415,326.3 1411.7,319"/><path class="a" d="M1406.7,306.7L1416,317.2L1407.4,320.7Z"/>
<path class="e" d="M1474.1,299.5C1563.2,308.5 1652.3,317.5 1741.5,325.9C1823.4,333.6 1905.4,340.7 1987.3,348C2020.1,350.9 2053.3,351.1 2085.6,356.8C2098.8,359.1 2113.1,359.8 2125,365.2C2137.9,371.1 2147.3,384.2 2159.3,392.2C2181.7,407.1 2207.8,416.9 2233,426.6C2266.9,439.7 2302.5,448 2338.2,456.4"/><path class="a" d="M2351,460L2336.9,460.9L2339.5,451.9Z"/>
<path class="e" d="M1381,396C1340.5,407.7 1300,419.4 1259.2,430C1222,439.6 1184.6,448.3 1147.1,456.9"/><path class="a" d="M1134.2,460L1146,452.4L1148.2,461.4Z"/>
<path class="e" d="M1463,396L1655.3,456"/><path class="a" d="M1668,460L1653.9,460.5L1656.7,451.6Z"/>
<path class="e" d="M1486,396C1517.3,400.9 1548.7,405.8 1580,410.7C1628.9,418.4 1677.9,425.9 1726.8,433.8C1775.2,441.6 1823.5,449.7 1871.9,457.8"/><path class="a" d="M1885,460L1871.1,462.4L1872.6,453.2Z"/>
<path class="e" d="M1495,396C1523.3,400.2 1551.6,404.3 1580,407.6C1614.8,411.6 1650.1,412.2 1684.8,417C1705.8,419.9 1726.9,423.3 1747.7,427.5C1761.7,430.3 1776,432.6 1789.6,437C1800.3,440.4 1812.2,443.1 1821,449.5C1829.6,455.8 1834.5,466.8 1842,474.7C1848,481.1 1854.1,487.7 1861,493C1870.8,500.5 1882.7,505.6 1894,510.8C1921.2,523.2 1951.7,527.9 1981,534.5C2023.7,544.1 2067.7,547.1 2110.8,555C2170.1,565.9 2229.8,576.7 2287.7,593.5C2324.2,604.1 2365.9,608.4 2396,630C2413.7,642.7 2427.9,661.5 2443,678C2448.5,684 2453.8,690 2459.1,696.1"/><path class="a" d="M2468,706L2455.7,699.2L2462.6,693Z"/>
<path class="e" d="M1104,396C1082,404.6 1060.1,413.1 1040,425C1026.1,433.3 1012.4,442.5 1000,453C985.3,465.4 971.3,479.5 960,495C950.4,508.2 943,523 935.6,537.8"/><path class="a" d="M929,549.3L931.5,535.5L939.6,540.1Z"/>
<path class="e" d="M1154,396L1243.8,446.2"/><path class="a" d="M1255.4,452.7L1241.5,450.3L1246.1,442.1Z"/>
<path class="e" d="M1182,396C1220.6,404.4 1259.3,412.7 1297.7,422C1323.4,428.2 1349,435 1374.6,441.5C1394.8,446.6 1414.9,451.7 1435.1,456.7"/><path class="a" d="M1448,460L1434,461.3L1436.2,452.2Z"/>
<path class="e" d="M1936,403.3L1758.5,456.2"/><path class="a" d="M1745.8,460L1757.2,451.7L1759.9,460.7Z"/>
<path class="e" d="M1991.5,403.3C1987.6,410.8 1983.6,418.3 1980,426C1976.6,433.2 1973.5,440.5 1970.4,447.8"/><path class="a" d="M1965,460L1966.1,445.9L1974.6,449.7Z"/>
<path class="e" d="M2014.6,403.3C2033,430.2 2051.4,457 2076,476C2098.3,493.2 2126.3,504.6 2153,514.6C2183.6,526.1 2217.4,528.5 2249,537.7C2267.1,543 2285,549.1 2303,555C2330,563.8 2359.8,567.9 2383.8,582C2405.4,594.6 2426.1,612.1 2441.5,632C2450.5,643.7 2458.5,656.8 2464.6,670.4C2468,677.9 2470.6,685.7 2473.3,693.6"/><path class="a" d="M2478,706L2468.9,695.2L2477.7,691.9Z"/>
<path class="e" d="M2247.3,396L2210.6,449.1"/><path class="a" d="M2203,460L2206.7,446.4L2214.4,451.7Z"/>
<path class="e" d="M2597.3,393.5C2494.1,401 2390.9,408.5 2287.7,416.5C2185.1,424.5 2082.5,431.9 1980,441.5C1923,446.8 1866,452.8 1809,458.7"/><path class="a" d="M1795.8,460L1808.6,454L1809.5,463.3Z"/>
<path class="e" d="M2597.3,397.3C2494.1,407.8 2390.8,418.3 2287.7,430C2208.7,439 2129.8,448.7 2050.9,458.4"/><path class="a" d="M2037.7,460L2050.3,453.8L2051.5,463.1Z"/>
<path class="e" d="M2682,403.3C2665,417.8 2648,432.2 2633.8,449C2618.9,466.6 2607.7,487.4 2595.4,507C2585.5,522.8 2575.9,538.9 2566.5,555C2540.1,600.3 2516.7,647.3 2493.2,694.2"/><path class="a" d="M2487,706L2489.1,692.1L2497.3,696.4Z"/>
<path class="e" d="M2714.6,403.3L2735.5,441"/><path class="a" d="M2742,452.7L2731.5,443.3L2739.6,438.8Z"/>
<path class="e" d="M2758.8,403.3L2915.4,455.8"/><path class="a" d="M2928,460L2913.9,460.2L2916.9,451.3Z"/>
<path class="e" d="M3261.5,314C3259.6,322 3257.8,330 3258,338C3258.1,342 3258.8,346.1 3259.4,350.1"/><path class="a" d="M3261,363.3L3254.8,350.7L3264.1,349.6Z"/>
<path class="e" d="M3275.8,363.3C3277.5,354.9 3279.2,346.5 3279,338C3278.9,334.4 3278.5,330.8 3278.1,327.3"/><path class="a" d="M3277,314L3282.8,326.9L3273.5,327.6Z"/>
<path class="e" d="M3318,314L3432.6,358.5"/><path class="a" d="M3445,363.3L3430.9,362.9L3434.3,354.2Z"/>
<path class="e" d="M3373.5,313.5C3392.8,315.7 3412.1,317.9 3431.5,319.6C3508,326.3 3585.2,322.2 3662,323.5C3758.9,325.1 3855.9,326 3952.8,328.3C4034.7,330.3 4116.6,332.4 4198.5,335.7C4280.5,339 4362.5,342.5 4444.3,348C4486.2,350.8 4528.1,353.9 4570,357.5C4610,360.9 4650.2,363.6 4690,369C4718.4,372.9 4746.8,377.4 4775,383C4795.9,387.2 4817.1,390.9 4837.5,397C4862.8,404.6 4890.2,411.4 4911.3,426.6C4924,435.8 4938.2,446.8 4945.7,460C4955.2,476.7 4953.2,499.9 4955,520C4957.3,546.5 4955.9,573.4 4955,600C4954.2,623.7 4957.2,648.7 4950.6,671C4945.5,688.2 4937.4,706.4 4926,720C4913.5,734.8 4893.9,743.9 4877,754.6C4866.2,761.4 4855.2,767.7 4844.1,773.9"/><path class="a" d="M4832.6,780.7L4841.7,769.9L4846.4,778Z"/>
<path class="e" d="M3397.6,402.3C3332.1,409.7 3266.5,417.1 3200.8,422.3C3124,428.4 3046.9,430.6 2970,434.5C2896.4,438.3 2822.7,440.9 2749.2,445.4C2678,449.8 2607,455.4 2535.9,461"/><path class="a" d="M2522.6,462L2535.5,456.4L2536.2,465.7Z"/>
<path class="e" d="M3408.5,403.3C3364.9,412 3321.2,420.7 3277.7,430C3226.3,441 3171.9,443.8 3123.8,464.6C3113,469.3 3102.7,475.2 3092,480C3056.2,496 3007.5,489.9 2980,516.4C2972.8,523.3 2966.7,532.1 2960.4,540.2C2947.4,556.8 2936.4,574.9 2924,592C2919.4,598.4 2914.4,604.5 2910,611C2901.7,623.4 2893.4,636.3 2888,650C2881.8,665.7 2880.5,683.3 2877,700C2872.3,722.5 2867.9,745.1 2863.6,767.6"/><path class="a" d="M2861,780.7L2859,766.7L2868.2,768.5Z"/>
<path class="e" d="M3460.4,403.3L3373.8,453.3"/><path class="a" d="M3362.3,460L3371.5,449.3L3376.2,457.4Z"/>
<path class="e" d="M3487.3,403.3C3485,411.5 3482.8,419.7 3483,428C3483.1,431.8 3483.8,435.6 3484.4,439.5"/><path class="a" d="M3486,452.7L3479.8,440L3489,438.9Z"/>
<path class="e" d="M3502.7,452.7C3504.6,444.4 3506.4,436.2 3506,428C3505.8,424.2 3505.1,420.3 3504.5,416.5"/><path class="a" d="M3502.7,403.3L3509.1,415.9L3499.8,417.1Z"/>
<path class="e" d="M3592.2,387.7C3630.5,389.3 3668.7,390.9 3707,392.7C3791.6,396.7 3876.3,401.3 3960.8,407C4057.3,413.5 4153.7,421.6 4250,430C4354.1,439.1 4458.6,445.4 4562,460C4621.2,468.3 4681.1,475 4739,489.5C4772.2,497.8 4807.6,503.1 4837.6,519C4853.2,527.2 4874.9,533.3 4882,548.5C4884.7,554.2 4887.4,562.1 4886.7,568C4885.4,578.2 4871.2,586.1 4862,592.7C4842,607.1 4813.2,607.1 4788.4,612.4C4740.2,622.8 4690.3,625.4 4641,629.6C4575.7,635.1 4509.9,636 4444.3,638C4362.4,640.5 4280.4,641.1 4198.5,642C4167.1,642.4 4135.6,642.6 4104.2,642.9"/><path class="a" d="M4090.9,643L4104.2,638.2L4104.2,647.5Z"/>
<path class="e" d="M3397.6,492C3348.3,501.1 3299.1,510.2 3250,520C3207.6,528.5 3165.3,537.5 3123,546.6"/><path class="a" d="M3110,549.3L3122.1,542L3124,551.2Z"/>
<path class="e" d="M3397.6,492.5C3370.4,494.6 3343.2,496.8 3316,498C3297.3,498.8 3278.7,499.2 3260,499.6C3232,500.3 3204,500 3176,501C3157.3,501.7 3138.6,502.4 3120,503.8C3101.3,505.2 3082.4,505.8 3064,509.4C3054.6,511.3 3045.1,513.3 3036,516.4C3026.4,519.7 3016.6,523.7 3008,529C2999.9,534 2991.9,540 2985.6,547C2978.5,555 2973.3,565.2 2968.8,575C2963.6,586.3 2960.6,598.8 2957.6,611C2953.7,627 2951.6,643.6 2950,660C2948.9,670.9 2948.5,681.8 2948.1,692.7"/><path class="a" d="M2947.3,706L2943.4,692.4L2952.7,693Z"/>
<path class="e" d="M3397.6,493C3389.1,495.8 3380.6,498.6 3372,501C3318.1,515.9 3260,506.9 3204,510.8C3157.3,514.1 3110.3,515.2 3064,522C3045.3,524.8 3026.6,528.1 3008,531.8C2989.2,535.5 2970.6,539.9 2952,544.4C2914.4,553.5 2877,563.7 2840,575.2C2805.1,586 2770.5,598 2736.4,611C2697.1,626 2658.8,643.7 2620,660C2587.4,673.7 2554.9,687.3 2522.3,700.9"/><path class="a" d="M2510,706L2520.5,696.6L2524.1,705.2Z"/>
<path class="e" d="M3441,492.7L3321,537.4"/><path class="a" d="M3308.5,542L3319.3,533L3322.6,541.7Z"/>
<path class="e" d="M3493.8,492.7L3492.7,528.7"/><path class="a" d="M3492.3,542L3488,528.6L3497.4,528.8Z"/>
<path class="e" d="M3548.8,492.7L3671,537.4"/><path class="a" d="M3683.5,542L3669.4,541.8L3672.6,533Z"/>
<path class="e" d="M3592.2,489.6C3630.5,496 3668.8,502.4 3707,509C3764,518.9 3821,529.3 3877.9,539.7"/><path class="a" d="M3891,542L3877.1,544.2L3878.7,535.1Z"/>
<path class="e" d="M3592.2,484C3630.5,487.4 3668.7,490.8 3707,494.4C3789,502.1 3871,510 3952.8,519C4015.1,525.9 4077.4,533.5 4139.6,541"/><path class="a" d="M4152.8,542.6L4139,545.7L4140.1,536.4Z"/>
<path class="e" d="M3592.2,480C3630.5,482.3 3668.7,484.5 3707,487C3821.8,494.5 3936.3,504.8 4051,514C4163.1,523 4275.2,532.3 4387.3,541.5"/><path class="a" d="M4400.6,542.6L4387,546.2L4387.7,536.9Z"/>
<path class="e" d="M3592.2,477C3630.5,478.6 3668.7,480.2 3707,482C3870.9,489.7 4034.7,500.7 4198.5,511.6C4337.5,520.9 4476.4,531.3 4615.3,541.6"/><path class="a" d="M4628.6,542.6L4615,546.3L4615.7,537Z"/>
<path class="e" d="M3250.8,582L3250.8,618"/><path class="a" d="M3250.8,631.3L3246.1,618L3255.5,618Z"/>
<path class="e" d="M3435.4,582L3298,627.2"/><path class="a" d="M3285.4,631.3L3296.6,622.7L3299.5,631.6Z"/>
<path class="e" d="M3349.9,581C3415.6,589 3481.3,597.1 3547,605C3611,612.7 3675,620.6 3739,628C3792.1,634.1 3845.2,640 3898.3,645.8"/><path class="a" d="M3911.5,647.3L3897.8,650.5L3898.8,641.2Z"/>
<path class="e" d="M3610.9,581C3666.3,592.6 3721.8,604.1 3777.7,612.7C3823.1,619.7 3868.8,624.7 3914.5,629.7"/><path class="a" d="M3927.7,631.3L3913.9,634.3L3915.1,625.1Z"/>
<path class="e" d="M3803,582L3949.9,627.4"/><path class="a" d="M3962.6,631.3L3948.5,631.9L3951.3,622.9Z"/>
<path class="e" d="M4001,582L4001,618"/><path class="a" d="M4001,631.3L3996.3,618L4005.7,618Z"/>
<path class="e" d="M4203.5,582L4058.7,627.4"/><path class="a" d="M4046,631.3L4057.3,622.9L4060.1,631.8Z"/>
<path class="e" d="M4400.6,580.4C4333.4,594 4266.3,607.5 4198.5,617.3C4163.7,622.3 4128.7,626.3 4093.8,630.4"/><path class="a" d="M4080.6,632L4093.2,625.7L4094.4,635Z"/>
<path class="e" d="M4628.6,580.4C4518.3,596.3 4407.9,612.1 4297,622C4232.9,627.7 4168.5,631.4 4104.2,635.1"/><path class="a" d="M4090.9,636L4103.9,630.4L4104.5,639.8Z"/>
<path class="e" d="M3911.5,648C3725.9,660.5 3540.4,672.9 3354.6,681C3226.5,686.6 3098.2,688.6 2970,693.5C2880,697 2790,700.8 2700,705C2646.8,707.5 2593.5,710.2 2540.3,712.8"/><path class="a" d="M2527,713.5L2540.1,708.2L2540.5,717.5Z"/>
<path class="e" d="M3911.5,650C3725.9,661.7 3540.3,673.4 3354.6,683C3232.8,689.3 3110.7,691.1 2989,700C2948.4,703 2907.8,706.6 2867.2,710C2817.5,714.1 2767.8,718.7 2718,722.4C2668.4,726.1 2618.6,728.7 2569,732.3C2535.9,734.7 2502.6,735.7 2469.7,739.8C2453.1,741.9 2436.6,745.2 2420,747.2C2376.3,752.3 2332,750.1 2288,752C2217.3,755.1 2146.5,758.2 2076,764C2044,766.6 2012,770 1980,773C1952.4,775.6 1924.9,778.2 1897.3,780.8"/><path class="a" d="M1884.1,782L1896.9,776.1L1897.8,785.4Z"/>
<path class="e" d="M3993.6,656.7C3991.7,664.4 3989.7,672.2 3990,680C3990.1,684.3 3991,688.5 3991.8,692.8"/><path class="a" d="M3993.6,706L3987.1,693.5L3996.4,692.2Z"/>
<path class="e" d="M4007.8,706C4009.7,697.3 4011.6,688.7 4011,680C4010.8,676.6 4010.2,673.2 4009.6,669.8"/><path class="a" d="M4007.8,656.7L4014.2,669.2L4005,670.5Z"/>
<path class="e" d="M4036.3,656.7L4180.9,702"/><path class="a" d="M4193.6,706L4179.5,706.5L4182.3,697.6Z"/>
<path class="e" d="M4090.9,655.6C4192.3,667.1 4293.6,678.6 4395,690C4438.2,694.9 4481.3,699.7 4524.5,704.5"/><path class="a" d="M4537.7,706L4524,709.2L4525,699.9Z"/>
<path class="e" d="M4663,731.3L4759.1,775.2"/><path class="a" d="M4771.2,780.7L4757.2,779.4L4761,770.9Z"/>
<path class="e" d="M1187,491.5C1159.8,495.1 1132.7,498.8 1105.4,501C1067.1,504.2 1028.5,503.8 990,505C916.3,507.3 842.6,507.2 769,510.8C704.9,513.9 640.7,517.1 577,524C525.5,529.5 474.1,536.8 423,545.4C405,548.4 386.6,550.5 369,555C341.3,562.1 313,571.4 288.5,585.8C270.6,596.3 250.4,607.6 238.5,624C229,637 220.9,654 219,670C217.5,682.6 219.8,696.4 223,709C225.3,717.9 228.7,726.7 232.7,735C236.9,743.8 242.6,751.8 248,760C250.1,763.2 252.3,766.5 254.5,769.7"/><path class="a" d="M262,780.7L250.7,772.3L258.4,767Z"/>
<path class="e" d="M1209.2,492.7C1146.3,506.6 1083.3,520.5 1020.8,536C1007.5,539.3 994.2,542.7 980.9,546.1"/><path class="a" d="M968,549.3L979.8,541.5L982,550.6Z"/>
<path class="e" d="M1272.7,492.7C1256.1,513.5 1239.5,534.3 1222.7,555C1202.3,580.1 1181.4,604.9 1161,630C1143.2,651.8 1125.6,673.7 1108,695.7"/><path class="a" d="M1099.6,706L1104.3,692.7L1111.6,698.6Z"/>
<path class="e" d="M1307.3,492.7C1325,513.1 1342.6,533.6 1359,555C1377.4,579.2 1393.9,604.9 1411,630C1420.3,643.6 1430.6,656.5 1438.6,670.8C1445.9,683.8 1451.6,697.8 1457.6,711.5C1463.2,724.2 1468.5,737 1473.4,750C1476.8,758.9 1481.4,767.7 1483,777C1484.5,785.8 1484.1,795.4 1483,804.3C1481.6,815.5 1478.3,826.8 1473.4,837C1471,841.9 1468.1,846.5 1465.1,851.2"/><path class="a" d="M1458.4,862.7L1461.1,848.8L1469.1,853.5Z"/>
<path class="e" d="M1330.4,492.7L1445.2,543.9"/><path class="a" d="M1457.3,549.3L1443.3,548.2L1447.1,539.6Z"/>
<path class="e" d="M1374.6,492.7L1602.1,546.3"/><path class="a" d="M1615,549.3L1601,550.8L1603.1,541.7Z"/>
<path class="e" d="M1391.6,491.5C1450.1,498.9 1508.6,506.3 1567,514.6C1618.3,521.9 1669.4,531 1720.8,537.7C1748.4,541.3 1776.1,544.5 1803.8,547.7"/><path class="a" d="M1817,549.3L1803.2,552.4L1804.4,543.1Z"/>
<path class="e" d="M840.5,562.7C778.3,562.7 716.1,562.8 654,564.6C589.8,566.5 525.2,566.5 461.5,574C409.9,580.1 356.9,585.1 307.7,601C269.8,613.2 231.9,629.2 197.8,650C177.9,662.1 155.7,673.4 140.8,690.8C130.7,702.6 120.9,716.6 116.3,731.5C113.5,740.5 111.7,750.6 112,760C112.3,770.1 115.2,780.7 119,790C125.8,806.5 139.9,821.1 153.8,832.5C167.1,843.4 183.7,851.5 200,857.5C210.7,861.4 222.1,863.8 233.4,866.2"/><path class="a" d="M246.3,869.5L232.3,870.7L234.6,861.6Z"/>
<path class="e" d="M840.5,563.5C791,564.1 741.5,564.6 692,566.5C627.9,568.9 563.8,571.9 500,578C448.5,582.9 396.5,586.5 346,597C320.1,602.4 291,603 269,616.5C256.3,624.3 240.8,634.2 234.6,647C228.8,658.9 229.1,675.7 230.8,689.6C232.1,700.2 236.6,710.7 240,721C244.4,734.2 248.8,747.6 255,760C256.5,763 258.1,766 259.8,768.9"/><path class="a" d="M266,780.7L255.6,771.1L263.9,766.7Z"/>
<path class="e" d="M840.5,567.3C778.1,570.6 715.8,573.9 654,582C615.3,587.1 575.5,589.4 538.5,601C518.9,607.2 495.3,610.5 480.8,624C472,632.2 463.5,643.7 459.6,655C454.8,668.9 457.3,686 459.6,701C461.4,712.5 465.3,723.9 469,735C472.8,746.3 477.4,757.3 482.1,768.3"/><path class="a" d="M487,780.7L477.8,770L486.5,766.6Z"/>
<path class="e" d="M846,574.2C769.2,586.5 692.5,598.8 615.4,608.8C552.6,616.9 489.6,623.5 426.6,630"/><path class="a" d="M413.4,631.5L426.1,625.4L427.1,634.7Z"/>
<path class="e" d="M873,574.7L644.9,628.3"/><path class="a" d="M632,631.3L643.9,623.7L646,632.8Z"/>
<path class="e" d="M898,574.7L804,625"/><path class="a" d="M792.3,631.3L801.8,620.9L806.2,629.2Z"/>
<path class="e" d="M920,574.7L920,618"/><path class="a" d="M920,631.3L915.3,618L924.7,618Z"/>
<path class="e" d="M934.6,574.7L996.5,623.1"/><path class="a" d="M1007,631.3L993.6,626.8L999.4,619.5Z"/>
<path class="e" d="M960,574.7C970.1,578.2 980.1,581.8 990,585.8C1009.7,593.7 1031.8,599.5 1047.7,612.7C1060,622.9 1072.6,636.4 1078.5,651C1083.6,663.6 1083.9,678.2 1084.2,692.8"/><path class="a" d="M1086,706L1079.6,693.5L1088.8,692.2Z"/>
<path class="e" d="M975,574.7C979.8,581.3 984.5,587.9 990,593.5C1014.9,619.2 1059,617.8 1093.5,630C1131.6,643.5 1169.5,657.3 1207.6,670.8C1243.7,683.6 1279.6,697.1 1316,708.8C1343.8,717.8 1372.5,724.1 1400,734C1413.7,739 1429.7,741.3 1440.8,750C1449.6,756.9 1458.3,766.7 1462.5,777C1465.8,785.2 1466.6,795.2 1466.6,804.3C1466.6,816.1 1462.9,828.1 1459.8,839.7C1458.9,843.1 1457.8,846.5 1456.8,849.9"/><path class="a" d="M1453,862.7L1452.3,848.6L1461.3,851.2Z"/>
<path class="e" d="M999.3,566.5C1073.2,569.1 1147,571.6 1220.8,576C1297.8,580.5 1374.8,585.9 1451.5,593.5C1515.7,599.9 1580.3,605.2 1643.8,616.5C1669.6,621.1 1695.9,624.3 1720.8,632C1740.5,638.1 1758.7,649.4 1778.5,655C1809.3,663.8 1842.6,662.7 1874.6,666.5C1909.7,670.7 1944.8,675.1 1980,679C2056.8,687.5 2133.8,695 2210.8,701C2280.2,706.4 2349.8,710.1 2419.3,713.8"/><path class="a" d="M2432.6,714.6L2419,718.4L2419.6,709.1Z"/>
<path class="e" d="M302.4,656.7C274.4,666 246.5,675.3 222.3,690.8C202.5,703.5 183.3,719.1 168,737C157.6,749.2 147.3,762.4 140.8,777C137.5,784.3 133,792.5 133,800C133,809.8 139.9,820.7 146,828.7C156.4,842.3 175.7,850 192.3,855.6C205.7,860.2 220.3,861.5 234.9,862.8"/><path class="a" d="M248,865L234.1,867.4L235.7,858.2Z"/>
<path class="e" d="M330.8,656.7C320.4,682.7 310,708.8 300,735C295.8,746.1 291.6,757.1 287.4,768.2"/><path class="a" d="M282.7,780.7L283,766.6L291.8,769.9Z"/>
<path class="e" d="M413.4,653C467.9,657.2 522.4,661.4 577,665C651.3,669.9 726.1,668.7 800,677.5C836.3,681.8 872.4,688.6 908.7,693.9C940.2,698.5 971.8,703 1003.3,707.4"/><path class="a" d="M1016.5,709.3L1002.7,712L1004,702.8Z"/>
<path class="e" d="M413.4,655.8C467.9,667.2 522.4,678.6 577,689.6C620,698.2 663.5,704.4 706,715C737.6,722.9 768.6,733.5 800,742.4C810.7,745.4 821.3,748.6 832,751.4C854.4,757.3 879.3,756.5 900,766.3C909.4,770.7 918,777.2 927,782.6C936.1,788.1 944.8,794.4 954.3,799C971.2,807.2 990.4,810.7 1008.7,815.2C1035.3,821.7 1062.8,824.9 1090,828.8C1135.1,835.2 1180.8,836.9 1226,842.4C1282.2,849.3 1338.2,858.5 1394.1,867.6"/><path class="a" d="M1407.3,869.6L1393.5,872.2L1394.8,863Z"/>
<path class="e" d="M519.8,656.7C488.6,665.5 457.4,674.3 426,682.6C389.9,692.1 352.5,697.5 317.4,709.8C289.6,719.5 261.9,731 235.9,745C218.1,754.6 194,760.3 184.2,777C180.3,783.7 175.7,792.4 176,800C176.3,807.1 180.5,814.9 184.6,821C191.5,831.3 204.5,837.3 215.4,844C222.8,848.6 230.5,852.5 238.3,856.4"/><path class="a" d="M250,862.7L236.1,860.5L240.5,852.2Z"/>
<path class="e" d="M552,656.7C495.7,681.7 439.3,706.7 384.6,735C360.1,747.7 335.9,761 311.7,774.4"/><path class="a" d="M300,780.7L309.5,770.2L313.9,778.5Z"/>
<path class="e" d="M661.5,655.8C707.4,668.2 753.3,680.7 800,688.4C835.9,694.3 872.4,696.8 908.7,700.6C940.2,703.9 971.7,706.8 1003.3,709.7"/><path class="a" d="M1016.5,711L1002.8,714.4L1003.7,705.1Z"/>
<path class="e" d="M671.4,652C714.2,657 757,662.1 800,665.3C836.2,668 872.5,669 908.7,670.8C944.9,672.6 981.3,672.6 1017.4,676.2C1053.8,679.8 1090.1,685.4 1126,692.5C1162.6,699.8 1198.5,710.9 1234.8,719.7C1261.8,726.2 1290.4,728.2 1316,738.7C1324.1,742 1332,746.3 1340,750C1356.2,757.5 1375.4,760.8 1389,771.7C1399.7,780.3 1408.9,792.3 1416,804.3C1422,814.4 1427.4,825.5 1430,837C1430.9,841.1 1431.4,845.3 1432,849.5"/><path class="a" d="M1434,862.7L1427.3,850.2L1436.6,848.8Z"/>
<path class="e" d="M706,656.7C667,666 627.9,675.3 589,685C552.8,694 514.9,698.6 480.4,712.5C466.6,718.1 453.4,725.4 439.7,731.5C403.7,747.7 366.7,761.7 329.7,775.7"/><path class="a" d="M317.4,780.7L328,771.4L331.5,780Z"/>
<path class="e" d="M730.4,656.7C674.8,682.9 619.1,709.1 562,731.5C519.9,748 474.8,757.7 434.2,777C389.5,798.2 348.4,826.9 307.3,855.7"/><path class="a" d="M296,862.7L304.8,851.7L309.8,859.6Z"/>
<path class="e" d="M746.7,656.7L531,774.9"/><path class="a" d="M519,780.7L528.9,770.7L533,779.1Z"/>
<path class="e" d="M816.3,656.7C856.1,666.2 895.9,675.6 935.9,684.3C965,690.6 994.2,696.5 1023.4,702.3"/><path class="a" d="M1036.4,705L1022.4,706.9L1024.3,697.7Z"/>
<path class="e" d="M840.5,655.8C881.3,661.5 922,667.1 963,670.8C999.1,674.1 1035.6,673.9 1071.7,677.5C1108.1,681.1 1144.5,685.6 1180.4,692.5C1217,699.6 1252.7,711 1289,719.7C1316.2,726.2 1344.6,728.9 1370.7,738.7C1379.6,742.1 1388.6,745.6 1397,750C1408.6,756.1 1421.7,762.1 1430,771.7C1437.6,780.5 1443.5,792.8 1446,804.3C1448.3,814.7 1446.8,826.1 1446,837C1445.7,841.1 1445.2,845.3 1444.8,849.4"/><path class="a" d="M1443.5,862.7L1440.1,849L1449.4,849.9Z"/>
<path class="e" d="M1832,574C1743.8,587.7 1655.5,601.3 1567,612.7C1518.7,618.9 1470.3,624.2 1422,630C1377.7,635.4 1333.2,640.2 1289,646.3C1252.7,651.3 1216.6,657.4 1180.4,662.6C1144.2,667.8 1107.9,672.3 1071.7,677.5C1035.4,682.7 999.3,688.6 963,693.9C908.7,701.9 854.3,709.3 800,717C757.7,723 715.4,729.1 673,735C641,739.4 609,743.5 577,748C508.9,757.6 440.9,768.6 372.9,779.5"/><path class="a" d="M359.8,781.5L372.2,774.9L373.7,784.1Z"/>
<path class="e" d="M1836,574.7C1784.5,580.9 1733.1,587.1 1682.3,597C1643.6,604.6 1605.6,615.6 1567,624C1544.7,628.9 1522.2,632.9 1500,638C1465.7,646 1431.6,655.2 1397.8,665.3C1352,678.9 1307.6,697.1 1262,711.5C1234.9,720 1208.1,730.2 1180.4,736C1144.9,743.5 1108,744.8 1071.7,746.8C1054.8,747.7 1037.9,748.1 1021,748.6C967.4,750.2 913.3,744.7 860,750C836.6,752.3 812.1,752.3 790,759.8C777.4,764 765.2,770.1 753.5,776.6C741.8,783.1 731.9,793.1 720,799C706.9,805.5 692.1,808.8 678,813C655,819.8 631.3,824.1 608,829.8C586.5,835 565.2,841.1 543.6,845.7C470.9,861.3 396.2,865.4 321.4,869.6"/><path class="a" d="M308.2,871L320.9,864.9L321.9,874.2Z"/>
<path class="e" d="M1855.4,574.7C1810.2,583 1765.1,591.3 1720,600C1671.6,609.4 1621.9,614.4 1575,629C1549.6,636.9 1524.7,647 1500,657C1474.7,667.2 1448.8,676.7 1425,689.8C1406.2,700.2 1388.2,712.4 1370.7,725C1356.7,735.1 1343.4,746.1 1330,757C1323.9,762 1317.8,767.1 1311.7,772.2"/><path class="a" d="M1301.5,780.7L1308.7,768.6L1314.7,775.8Z"/>
<path class="e" d="M1874.6,574.7L1695.1,627.6"/><path class="a" d="M1682.3,631.3L1693.7,623.1L1696.4,632.1Z"/>
<path class="e" d="M1905.4,574.7C1903.1,584.1 1900.7,593.5 1901,603C1901.1,608 1902,613.1 1902.9,618.1"/><path class="a" d="M1904.6,631.3L1898.3,618.7L1907.6,617.5Z"/>
<path class="e" d="M1918.8,631.3C1920.4,621.9 1922.1,612.5 1922,603C1922,598 1921.5,593 1920.9,587.9"/><path class="a" d="M1920,574.7L1925.6,587.6L1916.3,588.3Z"/>
<path class="e" d="M1960,574.7C1966.7,575.8 1973.3,576.9 1980,578C2057.1,591.2 2133.2,609.8 2209.3,628.5"/><path class="a" d="M2222.3,631.3L2208.3,633L2210.3,623.9Z"/>
<path class="e" d="M1965,574.7C1970,576.4 1975.1,578 1980,580C1996.2,586.4 2013.5,593.5 2026,605C2037.3,615.3 2047.6,629.2 2053,643.5C2057.4,655.3 2058.8,669.2 2058.8,682C2058.8,695 2056.2,708.3 2053,721C2048.9,737.3 2041.9,752.8 2034.8,768.3"/><path class="a" d="M2030,780.7L2030.4,766.6L2039.1,769.9Z"/>
<path class="e" d="M1972,574.7C1974.6,577.2 1977.3,579.6 1980,582C2011.5,609.4 2063.8,606 2095.4,632C2114.6,647.8 2129.8,669.6 2145.4,689.6C2153.4,699.8 2160.5,710.8 2168.5,721C2187.4,745.3 2207.6,769.1 2230,790C2248,806.8 2268.8,820.5 2287.7,836.4C2294.6,842.2 2301.5,848.1 2308.4,854"/><path class="a" d="M2318.5,862.7L2305.4,857.6L2311.4,850.5Z"/>
<path class="e" d="M1636,656.7L1615.4,694.3"/><path class="a" d="M1609,706L1611.3,692.1L1619.5,696.6Z"/>
<path class="e" d="M1647.7,656.7C1652.1,671.5 1656.6,686.3 1655.4,701C1654.9,707.7 1653.4,714.5 1651.5,721C1649.6,727.5 1647.1,734.4 1643.8,740C1630.3,763.3 1592.8,763.8 1567,775C1529,791.4 1490.6,807.3 1451.5,821C1406.2,836.9 1359.8,849.6 1313.3,862.2"/><path class="a" d="M1300.6,866L1312,857.7L1314.7,866.7Z"/>
<path class="e" d="M1657.3,656.7C1665.2,671.7 1673.2,686.7 1682.3,701C1686.6,707.8 1692.2,713.9 1695.8,721C1700.6,730.5 1704.2,741.3 1705.4,751.8C1706.9,764.3 1705.8,778.5 1701.5,790C1696.5,803.3 1685.6,816.3 1674.6,825C1656.8,839.2 1628.8,839.3 1605.4,844C1567.7,851.5 1528.1,847.4 1490,853.7C1486.1,854.3 1482.3,855 1478.4,855.7"/><path class="a" d="M1465.3,858L1477.6,851.1L1479.2,860.3Z"/>
<path class="e" d="M1693.8,656C1739.2,667.2 1784.6,678.5 1830,690C1880.1,702.7 1930.4,714.5 1980,728.7C2005.8,736.1 2033.1,740.3 2057,751.8C2077.5,761.7 2098.2,774.2 2114.6,790C2126.3,801.3 2136.7,814.7 2145.4,828.7C2149.8,835.8 2153.7,843.4 2157.5,851"/><path class="a" d="M2163.8,862.7L2153.4,853.2L2161.6,848.8Z"/>
<path class="e" d="M1715,653.5C1760,659.9 1805,666.2 1850,672C1893.3,677.6 1936.6,683 1980,687.7C2056.7,695.9 2133.8,702.2 2210.8,707C2280.2,711.3 2349.8,713.6 2419.3,715.9"/><path class="a" d="M2432.6,716.5L2419.1,720.6L2419.5,711.3Z"/>
<path class="e" d="M1715,652C1760,653.9 1805,655.9 1850,657C1893.3,658.1 1936.7,658.2 1980,658.8C2108.2,660.5 2236.4,659.5 2364.6,662.7C2467.2,665.3 2569.8,668.7 2672.3,674C2736.4,677.3 2800.5,681.4 2864.6,685.8C2899.7,688.2 2936,684.6 2970,693.5C2977.2,695.4 2985,696.6 2991.4,700C3001.5,705.3 3011.6,714.9 3016.3,724.8C3021.2,735.3 3020,749.9 3018.8,762C3017,780.7 3008.5,799.6 2999,816C2991.3,829.1 2980.8,840.7 2970.3,852.2"/><path class="a" d="M2962,862.7L2966.6,849.3L2973.9,855.1Z"/>
<path class="e" d="M2307,656.7L2434.8,701.6"/><path class="a" d="M2447.3,706L2433.2,706L2436.3,697.2Z"/>
<path class="e" d="M1016.5,729C955,733.6 893.5,738.3 832,743C748,749.4 664,755.6 580,762.6C511,768.4 442,774.7 373,781"/><path class="a" d="M359.8,782.2L372.6,776.4L373.5,785.7Z"/>
<path class="e" d="M1016.5,730C936.3,739 856.2,748.1 776,757C708.2,764.6 640.4,772 572.6,779.5"/><path class="a" d="M559.4,781L572.1,774.9L573.1,784.2Z"/>
<path class="e" d="M1016.5,731C964.3,738.4 912.1,745.8 860,754.2C809.6,762.3 759.4,771.3 709.1,780.2"/><path class="a" d="M696,782.5L708.3,775.6L709.9,784.8Z"/>
<path class="e" d="M1016.5,730.4C964.3,733 912.1,735.6 860,740C822.6,743.2 785.2,746.3 748,751.4C719.9,755.3 691.3,758 664,765.4C645,770.6 625.6,776.1 608,785C598.3,789.9 589.7,796.9 580,801.8C562.4,810.7 542.8,815.4 524,821.4C493.7,831 462.6,838.6 431.6,845.7C395.1,854 358.2,860.3 321.3,866.5"/><path class="a" d="M308.2,869L320.4,861.9L322.1,871.1Z"/>
<path class="e" d="M1047.3,731.3C1019.2,740 991.2,748.7 963,757C939.9,763.8 916.7,770.4 893.6,777"/><path class="a" d="M880.8,780.7L892.3,772.5L894.9,781.5Z"/>
<path class="e" d="M1081.3,731.3L1064.6,768.5"/><path class="a" d="M1059.2,780.7L1060.4,766.6L1068.9,770.4Z"/>
<path class="e" d="M1097.6,731.3C1112.2,748.2 1126.7,765.1 1143.8,778.7C1166.5,796.7 1194.1,809.2 1220.8,821C1245.6,832 1271.6,841 1297.7,848C1329.1,856.4 1361.7,860.6 1394.2,864.7"/><path class="a" d="M1407.3,867L1393.4,869.3L1395,860.1Z"/>
<path class="e" d="M1120.7,731.3L1242.9,776.1"/><path class="a" d="M1255.4,780.7L1241.3,780.5L1244.5,771.7Z"/>
<path class="e" d="M1158.6,726.8C1230.6,735.4 1302.5,744.1 1374.6,751.8C1438.7,758.7 1502.8,765.3 1567,771C1627.1,776.4 1687.3,780.9 1747.4,785.3"/><path class="a" d="M1760.7,786.4L1747.1,790L1747.8,780.7Z"/>
<path class="e" d="M1158.6,724.8C1256.3,730.7 1353.9,736.6 1451.5,744C1528.5,749.8 1605.4,757 1682.3,763.3C1746.4,768.5 1810.5,773.5 1874.6,778.7C1898.6,780.6 1922.6,782.6 1946.5,784.5"/><path class="a" d="M1959.8,785.6L1946.2,789.2L1946.9,779.9Z"/>
<path class="e" d="M1158.6,723C1282,724.6 1405.3,726.2 1528.5,732.5C1605.4,736.4 1682.2,742.8 1759,748C1832.7,753 1906.3,757.9 1980,763C2018.5,765.6 2057.9,763.5 2095.4,771C2128.1,777.6 2160.9,788.2 2191.5,801.8C2211.3,810.6 2229.8,822.6 2249.2,832.5C2265.6,840.9 2282.2,848.8 2298.9,856.8"/><path class="a" d="M2310.8,862.7L2296.8,861L2300.9,852.6Z"/>
<path class="e" d="M813.5,806L698.6,857.3"/><path class="a" d="M686.5,862.7L696.7,853L700.5,861.5Z"/>
<path class="e" d="M841,806L841,849.4"/><path class="a" d="M841,862.7L836.3,849.4L845.7,849.4Z"/>
<path class="e" d="M869,806L993.1,857.6"/><path class="a" d="M1005.4,862.7L991.3,861.9L994.9,853.3Z"/>
<path class="e" d="M912.3,804.3C944.5,810.5 976.6,816.7 1008.7,823.4C1045,831 1081,840.3 1117.4,847.8C1148.6,854.2 1180,860 1211.3,865.7"/><path class="a" d="M1224.4,868.2L1210.5,870.3L1212.2,861.1Z"/>
<path class="e" d="M912.3,803C962.5,811 1012.7,819.1 1063,826C1099.2,831 1135.5,834.9 1171.7,839.7C1217,845.7 1262.2,853.2 1307.6,858.7C1336.4,862.2 1365.2,865.2 1394.1,868.2"/><path class="a" d="M1407.3,869.6L1393.6,872.8L1394.6,863.5Z"/>
<path class="e" d="M1959.8,803.7C1867.1,808.2 1774.4,812.6 1682.3,823C1630.9,828.8 1579.4,834.8 1528.5,844C1511.7,847 1495,850.4 1478.4,853.8"/><path class="a" d="M1465.3,856.4L1477.5,849.3L1479.3,858.4Z"/>
<path class="e" d="M1967,806L1643.5,860.5"/><path class="a" d="M1630.4,862.7L1642.7,855.9L1644.3,865.1Z"/>
<path class="e" d="M1990,806L1837.3,851.5"/><path class="a" d="M1824.6,855.3L1836,847.1L1838.7,856Z"/>
<path class="e" d="M2010.8,806L1972.3,845.8"/><path class="a" d="M1963,855.3L1968.9,842.5L1975.6,849Z"/>
<path class="e" d="M2028,806L2055.8,851.3"/><path class="a" d="M2062.7,862.7L2051.8,853.8L2059.7,848.9Z"/>
<path class="e" d="M2043.5,806L2137.5,856.4"/><path class="a" d="M2149.2,862.7L2135.3,860.5L2139.7,852.3Z"/>
<path class="e" d="M2072.3,806C2105.4,816.9 2138.6,827.8 2172.3,836.4C2210.4,846.2 2249.2,853.1 2288,860"/><path class="a" d="M2301,862.7L2287,864.6L2288.9,855.4Z"/>
<path class="e" d="M2262.6,798C2168.4,805 2074.3,812 1980,815C1906.4,817.3 1832.6,815.2 1759,817C1669.3,819.2 1579.7,826.1 1490,828.7C1400.3,831.3 1310.5,831 1220.8,832.5C1143.9,833.8 1066.9,835.3 990,837C852.3,840 714.3,838.7 577,848C491.7,853.8 406.6,862.8 321.4,871.8"/><path class="a" d="M308.2,873L321,867.1L321.9,876.4Z"/>
<path class="e" d="M2341.5,806L2481,858"/><path class="a" d="M2493.5,862.7L2479.4,862.4L2482.7,853.6Z"/>
<path class="e" d="M2360.9,803.7C2400.5,813.5 2440.2,823.4 2480,832.5C2522.3,842.2 2564.9,851 2607.4,859.9"/><path class="a" d="M2620.4,862.7L2606.4,864.4L2608.4,855.3Z"/>
<path class="e" d="M2360.9,803.7C2426.1,816.7 2491.4,829.7 2557,840C2620.7,850 2684.9,857.5 2749,865C2784.1,869.1 2819.3,872.8 2854.5,876.6"/><path class="a" d="M2867.7,878L2854,881.2L2855,871.9Z"/>
<path class="e" d="M2453,731.3L2353.7,775.3"/><path class="a" d="M2341.5,780.7L2351.8,771L2355.6,779.6Z"/>
<path class="e" d="M2472.3,731.3L2448.5,769.4"/><path class="a" d="M2441.5,780.7L2444.6,766.9L2452.5,771.9Z"/>
<path class="e" d="M2495.4,731.3L2546.6,772.4"/><path class="a" d="M2557,780.7L2543.7,776L2549.5,768.7Z"/>
<path class="e" d="M2518.5,731.3L2678.7,777"/><path class="a" d="M2691.5,780.7L2677.4,781.5L2680,772.5Z"/>
<path class="e" d="M2527,728.7C2574.1,738.5 2621.1,748.2 2668.4,757C2713.1,765.3 2758,772.8 2802.9,780.2"/><path class="a" d="M2816,782.5L2802.1,784.8L2803.7,775.6Z"/>
<path class="e" d="M2934.3,731.3L2884.9,772.2"/><path class="a" d="M2874.7,780.7L2882,768.6L2887.9,775.8Z"/>
<path class="e" d="M2949.2,731.3L2949.2,849.4"/><path class="a" d="M2949.2,862.7L2944.5,849.4L2953.9,849.4Z"/>
<path class="e" d="M2907,729.3C2885.5,732.2 2864,735.2 2842.4,737.3C2801.1,741.4 2759.5,742.2 2718,743.5C2668.4,745 2618.7,744.5 2569,744.7C2519.3,744.9 2469.7,744 2420,744.7C2376,745.3 2332,746.3 2288,748C2217.3,750.8 2146.5,755.1 2076,761C2044,763.7 2010.5,760.9 1980,770C1963.6,774.9 1947.7,782.6 1932,790C1919.1,796 1907,804.1 1894,809.5C1852.5,826.7 1804.1,821.9 1759,827C1695.2,834.2 1630.8,836.9 1567,844C1537.5,847.3 1508,851 1478.5,854.8"/><path class="a" d="M1465.3,856.4L1477.9,850.2L1479.1,859.4Z"/>
</g>
</svg>
</body></html>
